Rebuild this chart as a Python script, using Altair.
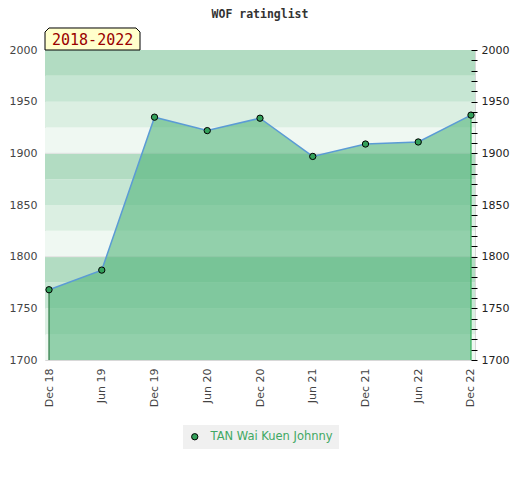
import altair as alt
import pandas as pd

periods = ["Dec 18", "Jun 19", "Dec 19", "Jun 20", "Dec 20", "Jun 21", "Dec 21", "Jun 22", "Dec 22"]
ratings = [1768, 1787, 1935, 1922, 1934, 1897, 1909, 1911, 1937]
player = "TAN Wai Kuen Johnny"
span_label = "2018-2022"
band_lows = list(range(1700, 2000, 25))
band_palette = ["#eff8f2", "#dbefe2", "#c6e6d3", "#b2dcc2"]
y_domain = [1700, 2000]

df = pd.DataFrame({"period": periods, "rating": ratings, "player": player})
bands = pd.DataFrame({
    "lo": band_lows,
    "hi": [b + 25 for b in band_lows],
    "col": [band_palette[((b - 1700) % 100) // 25] for b in band_lows],
})
sep = pd.DataFrame({"v": [1800, 1900]})

yscale = alt.Scale(domain=y_domain, nice=False, zero=False)
left_axis = alt.Axis(title=None, values=list(range(1700, 2001, 50)), format="d", ticks=False,
                     tickSize=0, labelPadding=8, domain=False, grid=False, labelColor="#444",
                     labelFontSize=11, labelOverlap=False)
X = alt.X("period:O", sort=periods, scale=alt.Scale(type="point", padding=0.076),
          axis=alt.Axis(title=None, labelAngle=270, ticks=False, tickSize=0, labelPadding=8,
                        domain=False, grid=False, labelColor="#444", labelFontSize=11))
Y = alt.Y("rating:Q", scale=yscale, axis=left_axis)

band_layer = alt.Chart(bands).mark_rect().encode(
    y=alt.Y("lo:Q", scale=yscale, axis=left_axis), y2="hi:Q",
    fill=alt.Fill("col:N", scale=None))
sep_layer = alt.Chart(sep).mark_rule(color="#e2e2e2", strokeWidth=1).encode(
    y=alt.Y("v:Q", scale=yscale, axis=left_axis))

base = alt.Chart(df)
area = base.mark_area(color="#4cb276", opacity=0.57).encode(x=X, y=Y, y2=alt.datum(1700))
line = base.mark_line(color="#5b9bd5", strokeWidth=1.5).encode(x=X, y=Y)
rule_first = base.transform_filter(alt.datum.period == periods[0]).mark_rule(
    color="#2d7a45", strokeWidth=1.2).encode(x=X, y=Y, y2=alt.datum(1700))
rule_last = base.transform_filter(alt.datum.period == periods[-1]).mark_rule(
    color="#36b05a", strokeWidth=1.2).encode(x=X, y=Y, y2=alt.datum(1700))
points = base.mark_point(filled=True, size=40, stroke="black", strokeWidth=1, opacity=1).encode(
    x=X, y=Y,
    fill=alt.Fill("player:N", scale=alt.Scale(domain=[player], range=["#33a05a"]),
                  legend=alt.Legend(title=None, orient="none", legendX=138, legendY=375,
                                    fillColor="#f0f0f0", padding=6, labelOffset=10,
                                    labelColor="#3fa863", labelFontSize=11.5,
                                    symbolType="circle", symbolSize=40,
                                    symbolStrokeColor="black", symbolStrokeWidth=1)))

tag_df = pd.DataFrame({"t": [span_label]})
tag_path = "M -1 0.2316 L -1 -0.147 L -0.916 -0.2316 L 0.916 -0.2316 L 1 -0.147 L 1 0.2316 Z"
tag_box = alt.Chart(tag_df).mark_point(shape=tag_path, size=9025, filled=True, fill="#ffffcc",
                                       stroke="black", strokeWidth=1, opacity=1).encode(
    x=alt.value(47.5), y=alt.value(-11))
tag_text = alt.Chart(tag_df).mark_text(align="left", baseline="middle", font="DejaVu Sans Mono",
                                       fontSize=15, color="#990000").encode(
    x=alt.value(7), y=alt.value(-10), text="t:N")

inner = alt.layer(band_layer, sep_layer, area, line, rule_first, rule_last, points, tag_box, tag_text)

right_axis = base.mark_point(opacity=0).encode(
    y=alt.Y("rating:Q", scale=yscale,
            axis=alt.Axis(orient="right", title=None, values=list(range(1700, 2001, 10)),
                          format="d",
                          labelExpr="datum.value % 50 == 0 ? datum.label : ''",
                          tickSize=6, tickColor="#000", tickWidth=1, offset=-4, labelPadding=4,
                          domain=False, grid=False, labelColor="#222", labelFontSize=11,
                          labelOverlap=False, zindex=1)))

chart = alt.layer(inner, right_axis).resolve_scale(y="independent").properties(
    width=430, height=310,
    autosize=alt.AutoSizeParams(type="none"),
    padding={"left": 37, "top": 42, "right": 37, "bottom": 100},
    title=alt.TitleParams("WOF ratinglist", font="DejaVu Sans Mono", fontSize=11.5,
                          fontWeight="bold", color="#333", frame="group", anchor="middle",
                          offset=5),
).configure_view(stroke="#d8d8d8").configure_axis(labelFont="DejaVu Sans").configure_legend(
    labelFont="DejaVu Sans")

chart.save("out.html", embed_options={"renderer": "svg", "actions": False})
